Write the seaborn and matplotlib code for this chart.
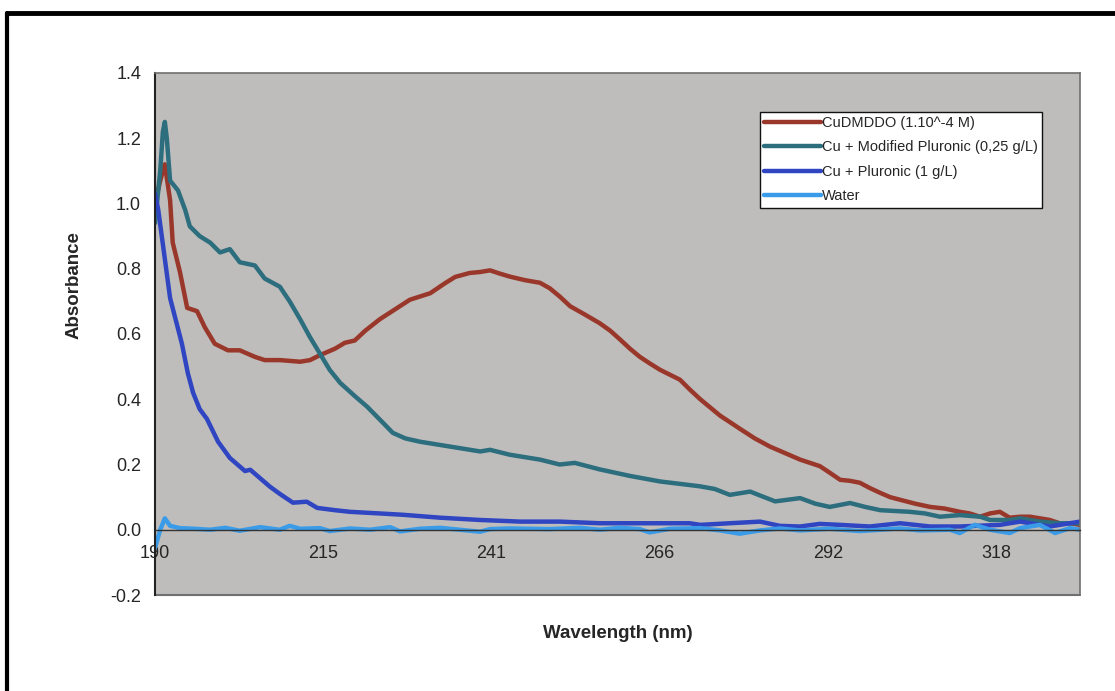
import matplotlib
matplotlib.use("Agg")
import matplotlib.pyplot as plt
import seaborn as sns
import pandas as pd
from matplotlib.lines import Line2D

# ---------------- data ----------------
series_names = ["CuDMDDO (1.10^-4 M)", "Cu + Modified Pluronic (0,25 g/L)",
                "Cu + Pluronic (1 g/L)", "Water"]

red_nm = [190.0, 190.8, 191.5, 192.3, 192.7, 193.8, 194.9, 196.4, 197.6, 199.1,
          201.1, 202.9, 205.2, 206.7, 209.0, 212.1, 213.6, 215.1, 217.4, 218.9,
          220.4, 222.0, 224.2, 226.5, 228.8, 231.9, 234.1, 235.7, 237.9, 239.5,
          241.0, 242.5, 244.0, 246.3, 248.6, 250.1, 251.6, 253.2, 255.4, 257.7,
          259.3, 260.8, 262.3, 263.8, 265.3, 266.9, 268.4, 269.9, 271.4, 273.0,
          274.5, 276.0, 277.5, 279.0, 281.3, 283.6, 285.9, 288.2, 291.2, 292.7,
          294.3, 295.8, 297.3, 298.8, 300.4, 301.9, 303.4, 305.7, 308.0, 310.2,
          312.5, 314.0, 315.6, 317.1, 318.6, 320.1, 321.7, 323.2, 324.7, 326.2,
          327.7, 329.3, 330.8]
red_abs = [1.00, 1.07, 1.12, 1.01, 0.88, 0.79, 0.68, 0.67, 0.62, 0.57,
           0.55, 0.55, 0.53, 0.52, 0.52, 0.515, 0.52, 0.535, 0.555, 0.573,
           0.58, 0.61, 0.645, 0.675, 0.705, 0.725, 0.755, 0.775, 0.787, 0.79,
           0.795, 0.785, 0.776, 0.765, 0.757, 0.74, 0.715, 0.685, 0.66, 0.633,
           0.61, 0.583, 0.555, 0.53, 0.51, 0.49, 0.475, 0.46, 0.43, 0.40,
           0.375, 0.35, 0.33, 0.31, 0.28, 0.255, 0.235, 0.215, 0.195, 0.175,
           0.153, 0.15, 0.144, 0.128, 0.113, 0.10, 0.092, 0.08, 0.07, 0.065,
           0.055, 0.05, 0.04, 0.05, 0.055, 0.037, 0.04, 0.04, 0.035, 0.03,
           0.02, 0.02, 0.015]

teal_nm = [190.0, 190.8, 191.2, 191.5, 191.8, 192.3, 193.5, 194.6, 195.3, 196.8,
           198.4, 199.9, 201.4, 202.9, 205.2, 206.7, 209.0, 210.5, 212.1, 213.6,
           215.1, 216.6, 218.2, 220.4, 222.3, 224.7, 226.2, 228.1, 230.3, 234.9,
           239.5, 241.0, 244.0, 248.6, 251.6, 253.9, 257.7, 262.3, 266.9, 271.4,
           273.0, 275.2, 277.5, 280.6, 282.1, 284.4, 288.2, 290.5, 292.7, 295.8,
           298.1, 300.4, 304.9, 307.2, 309.5, 312.5, 315.6, 317.1, 320.1, 321.7,
           324.7, 327.7, 330.8]
teal_abs = [0.94, 1.10, 1.22, 1.25, 1.20, 1.07, 1.04, 0.98, 0.93, 0.90,
            0.88, 0.85, 0.86, 0.82, 0.81, 0.77, 0.745, 0.70, 0.645, 0.59,
            0.54, 0.49, 0.45, 0.41, 0.377, 0.328, 0.297, 0.28, 0.27, 0.255,
            0.24, 0.245, 0.23, 0.215, 0.20, 0.205, 0.185, 0.165, 0.148, 0.137,
            0.133, 0.125, 0.107, 0.117, 0.105, 0.087, 0.097, 0.08, 0.07, 0.082,
            0.07, 0.06, 0.055, 0.05, 0.04, 0.045, 0.04, 0.03, 0.03, 0.035,
            0.025, 0.02, 0.02]

blue_nm = [190.0, 190.5, 191.1, 191.7, 192.3, 193.2, 194.1, 195.0, 195.8, 196.8,
           197.9, 199.6, 201.4, 203.7, 204.5, 207.5, 209.0, 211.0, 213.1, 214.7,
           217.4, 219.7, 224.2, 227.7, 233.4, 239.5, 245.6, 251.6, 257.7, 265.3,
           271.4, 273.0, 277.5, 282.1, 285.1, 288.2, 291.2, 294.3, 298.8, 303.4,
           308.0, 312.5, 318.6, 321.7, 326.2, 330.8]
blue_abs = [1.03, 0.98, 0.89, 0.80, 0.71, 0.64, 0.57, 0.48, 0.42, 0.37,
            0.34, 0.27, 0.22, 0.18, 0.184, 0.132, 0.11, 0.083, 0.086, 0.067,
            0.06, 0.055, 0.05, 0.046, 0.037, 0.03, 0.025, 0.025, 0.02, 0.02,
            0.02, 0.015, 0.02, 0.025, 0.012, 0.01, 0.018, 0.015, 0.01, 0.02,
            0.01, 0.01, 0.015, 0.025, 0.01, 0.025]

water_nm = [190.0, 190.8, 191.5, 192.3, 193.8, 196.1, 198.4, 200.7, 202.9, 206.0,
            209.0, 210.5, 212.1, 215.1, 216.6, 219.7, 222.7, 225.8, 227.3, 230.3,
            233.4, 236.4, 239.5, 241.0, 244.0, 250.1, 254.7, 257.7, 260.8, 263.8,
            265.3, 268.4, 273.0, 276.0, 279.0, 282.1, 285.1, 288.2, 292.7, 297.3,
            300.4, 303.4, 306.4, 311.0, 312.5, 314.8, 317.1, 320.1, 321.7, 324.7,
            327.0, 329.3, 330.8]
water_abs = [-0.055, 0.0, 0.035, 0.012, 0.005, 0.003, 0.0, 0.006, -0.003, 0.008,
             0.0, 0.012, 0.003, 0.005, -0.004, 0.004, 0.0, 0.008, -0.005, 0.003,
             0.006, 0.0, -0.006, 0.002, 0.004, 0.002, 0.006, 0.0, 0.006, 0.002,
             -0.008, 0.003, 0.005, -0.002, -0.012, -0.002, 0.004, -0.002, 0.003, -0.004,
             0.0, 0.004, -0.002, 0.0, -0.01, 0.015, 0.0, -0.01, 0.005, 0.015,
             -0.01, 0.005, 0.0]

x_tick_pos = [190.0, 215.6, 241.2, 266.8, 292.4, 318.0]
x_tick_labels = ["190", "215", "241", "266", "292", "318"]
x_minor_pos = [202.8, 228.4, 254.0, 279.6, 305.2, 330.8]
y_ticks = [-0.2, 0.0, 0.2, 0.4, 0.6, 0.8, 1.0, 1.2, 1.4]

colors = {series_names[0]: "#9a372b", series_names[1]: "#2d6e7e",
          series_names[2]: "#2f45c2", series_names[3]: "#3a9be8"}

# ---------------- build long table ----------------
frames = []
for name, xs, ys in zip(series_names, [red_nm, teal_nm, blue_nm, water_nm],
                        [red_abs, teal_abs, blue_abs, water_abs]):
    frames.append(pd.DataFrame({"Wavelength": xs, "Absorbance": ys, "Series": name}))
df = pd.concat(frames, ignore_index=True)

sns.set_style("white")
plt.rcParams["font.family"] = ["Liberation Sans", "DejaVu Sans"]
label_family = ["Liberation Sans Narrow", "Liberation Sans", "DejaVu Sans"]

fig = plt.figure(figsize=(11.15, 6.91), dpi=100)
ax = fig.add_axes([0.139, 0.1389, 0.8296, 0.7555])
ax.set_facecolor("#bebdbb")

sns.lineplot(data=df, x="Wavelength", y="Absorbance", hue="Series",
             hue_order=series_names, palette=colors, estimator=None, sort=False,
             linewidth=3.2, ax=ax, legend=False)

ax.set_xlim(190.0, 330.8)
ax.set_ylim(-0.2, 1.4)

# spines: x axis crosses at y = 0 like Excel
for s in ["top", "right"]:
    ax.spines[s].set_color("#707070")
    ax.spines[s].set_linewidth(1.2)
ax.spines["left"].set_color("#222222")
ax.spines["left"].set_linewidth(1.5)
ax.spines["bottom"].set_position(("data", 0.0))
ax.spines["bottom"].set_color("#333333")
ax.spines["bottom"].set_linewidth(1.0)
# bottom frame of plot area
ax.axhline(-0.2, color="#707070", linewidth=1.5, clip_on=False)

ax.set_yticks(y_ticks)
ax.set_yticklabels([f"{v:.1f}" for v in y_ticks])
ax.set_xticks(x_tick_pos)
ax.set_xticklabels(x_tick_labels)
ax.set_xticks(x_minor_pos, minor=True)
ax.tick_params(axis="y", direction="out", length=6, width=1.2, color="#222222",
               labelsize=13, pad=4)
ax.tick_params(axis="x", which="both", direction="out", length=5, width=1.2,
               color="#222222", labelsize=13, pad=6)

ax.set_xlabel("Wavelength (nm)", fontsize=13.5, fontweight="bold", family=label_family)
ax.set_ylabel("Absorbance", fontsize=13.5, fontweight="bold", family=label_family)
ax.xaxis.set_label_coords(0.5, -0.058)
ax.yaxis.set_label_coords(-0.078, 0.594)

handles = [Line2D([0], [0], color=colors[n], linewidth=3.2) for n in series_names]
leg = ax.legend(handles, series_names, loc="upper left",
                bbox_to_anchor=(0.654, 0.926), fontsize=10.5, frameon=True,
                fancybox=False, framealpha=1.0, edgecolor="#111111",
                handlelength=3.9, handletextpad=0.05, borderpad=0.3,
                labelspacing=0.72, borderaxespad=0)
leg.get_frame().set_linewidth(1.0)

# outer chart border (black, partly cropped)
fig.add_artist(Line2D([7 / 1115, 7 / 1115], [0, 1 - 13 / 691], color="black",
                      linewidth=3, transform=fig.transFigure))
fig.add_artist(Line2D([7 / 1115, 1], [1 - 13 / 691, 1 - 13 / 691], color="black",
                      linewidth=3.5, transform=fig.transFigure))

fig.savefig("out.png", dpi=100, facecolor="white")
